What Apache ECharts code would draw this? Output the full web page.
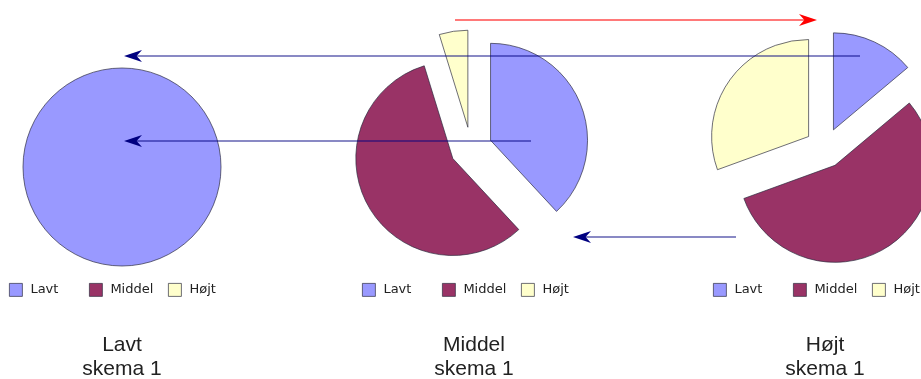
<!DOCTYPE html>
<html>
<head>
<meta charset="utf-8">
<script src="https://cdn.jsdelivr.net/npm/echarts@6/dist/echarts.min.js"></script>
<style>
  html, body { margin: 0; padding: 0; background: #ffffff; }
  #chart { width: 921px; height: 379px; }
</style>
</head>
<body>
<div id="chart"></div>
<script>
// Categories shared by all three pies
const categories = ['Lavt', 'Middel', 'Højt'];
const categoryColors = ['#9999ff', '#993366', '#ffffcc'];

// Counts per scheme (Lavt, Middel, Højt)
const lavtValues = [10, 0, 0];
const middelValues = [8, 12, 1];
const hoejtValues = [5, 20, 11];

// Captions under each pie
const schemeNames = ['Lavt', 'Middel', 'Højt'];
const schemeSub = 'skema 1';

const chart = echarts.init(document.getElementById('chart'), null, { renderer: 'canvas' });

const pieLayouts = [
  { values: lavtValues, center: [122, 167], radius: 99, exploded: false, legendLeft: 9, captionX: 122 },
  { values: middelValues, center: [471, 148], radius: 97, exploded: true, offset: 21, legendLeft: 362, captionX: 474 },
  { values: hoejtValues, center: [825, 148], radius: 97, exploded: true, offset: 20, legendLeft: 713, captionX: 825 }
];

const borderColor = 'rgba(40,40,60,0.85)';
const legendColumn = 79.5;

function buildData(values, exploded) {
  return categories.map((name, i) => ({
    name: name,
    value: values[i],
    selected: exploded && values[i] > 0,
    itemStyle: {
      color: categoryColors[i],
      borderColor: borderColor,
      borderWidth: values[i] > 0 ? 0.8 : 0
    }
  }));
}

const series = pieLayouts.map((p, idx) => ({
  type: 'pie',
  name: schemeNames[idx],
  center: p.center,
  radius: p.radius,
  startAngle: 90,
  clockwise: true,
  selectedMode: p.exploded ? 'multiple' : false,
  selectedOffset: p.offset || 0,
  label: { show: false },
  labelLine: { show: false },
  emphasis: { scale: false, disabled: true },
  animation: false,
  data: buildData(p.values, p.exploded)
}));

// One legend entry per column, so each pie gets an evenly spaced key
const legends = [];
pieLayouts.forEach(p => {
  categories.forEach((name, i) => {
    legends.push({
      data: [{ name: name, itemStyle: { color: categoryColors[i], borderColor: borderColor, borderWidth: 0.8 } }],
      left: Math.round(p.legendLeft + i * legendColumn),
      top: 283,
      padding: 0,
      itemWidth: 13,
      itemHeight: 13,
      icon: 'rect',
      selectedMode: false,
      textStyle: {
        fontFamily: 'DejaVu Sans',
        fontSize: 13,
        color: '#222',
        padding: [0, 0, 0, 3]
      }
    });
  });
});

// Transition arrows drawn on top of the pies
function arrow(x1, x2, y, lineColor, headColor) {
  const dir = x2 > x1 ? 1 : -1;
  const headLen = 18, half = 6;
  return {
    type: 'group',
    z: 100,
    zlevel: 1,
    children: [
      {
        type: 'line',
        z: 100,
        zlevel: 1,
        shape: { x1: x1, y1: y, x2: x2 - dir * headLen * 0.6, y2: y },
        style: { stroke: lineColor, lineWidth: 1.5 }
      },
      {
        type: 'polygon',
        z: 101,
        zlevel: 1,
        shape: {
          points: [[x2, y], [x2 - dir * headLen, y - half], [x2 - dir * headLen * 0.7, y], [x2 - dir * headLen, y + half]]
        },
        style: { fill: headColor }
      }
    ]
  };
}

const navyLine = 'rgba(0,0,128,0.62)';
const navy = '#000080';
const graphics = [
  arrow(455, 817, 20, 'rgba(255,0,0,0.7)', '#ff0000'),
  arrow(860, 124, 56, navyLine, navy),
  arrow(531, 124, 141, navyLine, navy),
  arrow(736, 573, 237, navyLine, navy)
];

pieLayouts.forEach((p, idx) => {
  graphics.push({
    type: 'text',
    x: p.captionX,
    y: 333,
    z: 100,
    style: {
      text: schemeNames[idx] + '\n' + schemeSub,
      align: 'center',
      verticalAlign: 'top',
      fontFamily: 'Liberation Sans',
      fontSize: 21,
      lineHeight: 24,
      fill: '#222'
    }
  });
});

chart.setOption({
  backgroundColor: '#ffffff',
  color: categoryColors,
  animation: false,
  legend: legends,
  series: series,
  graphic: graphics
});
</script>
</body>
</html>
